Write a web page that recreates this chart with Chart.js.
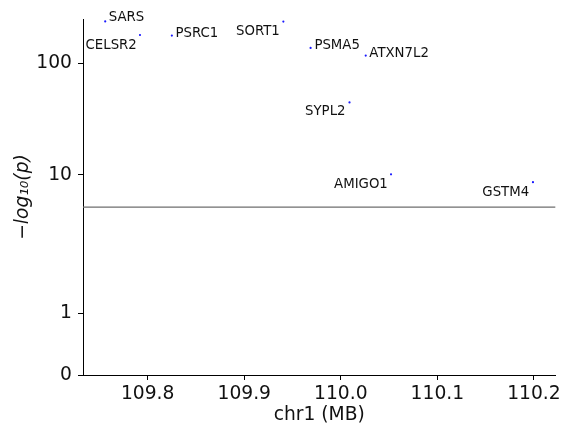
<!DOCTYPE html>
<html>
<head>
<meta charset="utf-8">
<script src="https://cdn.jsdelivr.net/npm/chart.js@4"></script>
<style>
  html, body { margin: 0; padding: 0; background: #fff; }
</style>
</head>
<body>
<canvas id="chart" width="564" height="425"></canvas>
<script>
// lead SNP per gene: position on chr1 (Mb) and -log10(p)
const genes = ["SARS", "CELSR2", "PSRC1", "SORT1", "PSMA5", "ATXN7L2", "SYPL2", "AMIGO1", "GSTM4"];
const positionsMb = [109.756, 109.792, 109.825, 109.9405, 109.9687, 110.0258, 110.009, 110.052, 110.199];
const negLogP = [237, 179, 177, 236, 137, 117, 44.5, 10.1, 8.85];

const threshold = 5.84;
const yTickValues = [0, 1, 10, 100];
const xTickValues = [109.8, 109.9, 110.0, 110.1, 110.2];

const X_MIN = 109.733;
const X_MAX = 110.2224;
const Y_MAX = 249;

// pixel nudges for the gene names, relative to their point
const labelOffsets = [[3.6, -3.5], [-3.2, 10.5], [3.6, -2.5], [-3.6, 10.2], [3.8, -2.8], [3.6, -2.2], [-4, 9.5], [-3.2, 10.1], [-3.8, 10.2]];

// y axis: linear below 1, log from 1 to 10, squashed decades above 10
const LOW_SPAN = 0.446;
const HIGH_DECADE = 0.806;
function squash(v) {
  if (v <= 1) return v * LOW_SPAN;
  if (v <= 10) return LOW_SPAN + Math.log10(v);
  return LOW_SPAN + 1 + HIGH_DECADE * Math.log10(v / 10);
}

const FONT = "'DejaVu Sans', sans-serif";

const geneLabels = {
  id: "geneLabels",
  afterDatasetsDraw(chart) {
    const ctx = chart.ctx;
    const pts = chart.getDatasetMeta(0).data;
    ctx.save();
    ctx.font = "13.3px " + FONT;
    ctx.fillStyle = "#111";
    ctx.textBaseline = "middle";
    pts.forEach((p, i) => {
      const [dx, dy] = labelOffsets[i];
      ctx.textAlign = dx < 0 ? "right" : "left";
      ctx.fillText(genes[i], p.x + dx, p.y + dy);
    });
    ctx.restore();
  }
};

const axisGrid = { drawOnChartArea: false, color: "#000", lineWidth: 1, tickLength: 5 };
const axisBorder = { display: true, color: "#000", width: 1 };

new Chart(document.getElementById("chart"), {
  type: "scatter",
  data: {
    datasets: [
      {
        label: "genes",
        data: genes.map((g, i) => ({ x: positionsMb[i], y: squash(negLogP[i]) })),
        backgroundColor: "#1a1aff",
        borderWidth: 0,
        pointRadius: 1.1
      },
      {
        label: "threshold",
        data: [{ x: X_MIN, y: squash(threshold) }, { x: X_MAX, y: squash(threshold) }],
        showLine: true,
        borderColor: "#6e6e6e",
        borderWidth: 1.2,
        pointRadius: 0
      }
    ]
  },
  options: {
    responsive: false,
    animation: false,
    devicePixelRatio: 1,
    layout: { padding: { top: 19, right: 7, left: 0, bottom: 0 } },
    plugins: { legend: { display: false }, tooltip: { enabled: false } },
    scales: {
      x: {
        type: "linear",
        min: X_MIN,
        max: X_MAX,
        grid: axisGrid,
        border: axisBorder,
        afterBuildTicks: (s) => { s.ticks = xTickValues.map(v => ({ value: v })); },
        afterFit: (s) => { s.height = 50; },
        ticks: {
          color: "#111",
          padding: 3,
          maxRotation: 0,
          font: { family: FONT, size: 18.7 },
          callback: (v) => Number(v).toFixed(1)
        },
        title: {
          display: true,
          text: "chr1 (MB)",
          color: "#111",
          padding: { top: 0, bottom: 0 },
          font: { family: FONT, size: 18.7, lineHeight: 1.05 }
        }
      },
      y: {
        type: "linear",
        min: 0,
        max: squash(Y_MAX),
        grid: axisGrid,
        border: axisBorder,
        afterBuildTicks: (s) => { s.ticks = yTickValues.map(v => ({ value: squash(v) })); },
        afterFit: (s) => { s.width = 83; },
        ticks: {
          color: "#111",
          padding: 6,
          font: { family: FONT, size: 18.7 },
          callback: (v, i) => String(yTickValues[i])
        },
        title: {
          display: true,
          text: "\u2212log\u2081\u2080(p)",
          color: "#111",
          padding: { top: 12, bottom: 0 },
          font: { family: FONT, size: 18.7, style: "italic" }
        }
      }
    }
  },
  plugins: [geneLabels]
});
</script>
</body>
</html>
